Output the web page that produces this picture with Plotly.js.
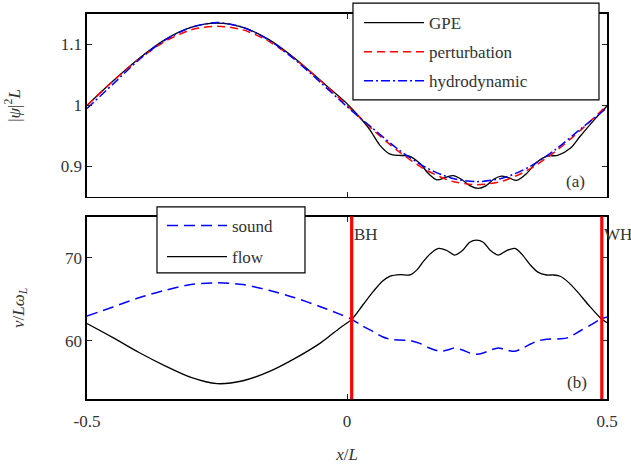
<!DOCTYPE html>
<html>
<head>
<meta charset="utf-8">
<script src="https://cdn.plot.ly/plotly-3.0.1.min.js"></script>
<style>html,body{margin:0;padding:0;background:#fff;}#plot{width:631px;height:466px;}</style>
</head>
<body>
<div id="plot"></div>
<script>
// ---- data ----
const gpeX = [-0.5,-0.45,-0.4,-0.35,-0.3,-0.25,-0.2,-0.15,-0.1,-0.05,0,0.022,0.044,0.063,0.083,0.1,0.12,0.14,0.158,0.173,0.19,0.204,0.22,0.237,0.252,0.267,0.282,0.297,0.312,0.326,0.345,0.365,0.385,0.405,0.43,0.448,0.475,0.5];
const gpeY = [1.0,1.04,1.077,1.108,1.128,1.135,1.128,1.108,1.077,1.04,1.003,0.983,0.96,0.935,0.92,0.918,0.917,0.905,0.887,0.878,0.882,0.885,0.879,0.868,0.864,0.868,0.879,0.884,0.881,0.877,0.888,0.907,0.917,0.918,0.93,0.949,0.976,0.999];

const pertX = [-0.5,-0.45,-0.4,-0.35,-0.3,-0.25,-0.2,-0.15,-0.1,-0.05,0,0.05,0.1,0.15,0.2,0.25,0.3,0.35,0.4,0.45,0.5];
const pertY = [1.0,1.04,1.076,1.105,1.124,1.130,1.124,1.105,1.076,1.04,1.0,0.96,0.924,0.895,0.876,0.870,0.876,0.895,0.924,0.96,1.0];

const hydroX = [-0.5,-0.45,-0.4,-0.35,-0.3,-0.25,-0.2,-0.15,-0.1,-0.05,0,0.05,0.1,0.15,0.2,0.25,0.3,0.35,0.4,0.45,0.5];
const hydroY = [0.995,1.035,1.075,1.107,1.128,1.136,1.128,1.107,1.075,1.037,0.998,0.962,0.927,0.899,0.881,0.875,0.881,0.899,0.927,0.962,0.996];

const soundX = [-0.5,-0.45,-0.4,-0.35,-0.3,-0.25,-0.2,-0.15,-0.1,-0.05,-0.013,0.009,0.03,0.051,0.068,0.083,0.102,0.121,0.14,0.156,0.179,0.193,0.207,0.222,0.236,0.249,0.262,0.276,0.291,0.307,0.323,0.34,0.352,0.367,0.384,0.41,0.425,0.448,0.468,0.487,0.5];
const soundY = [63.0,64.1,65.2,66.1,66.8,67.0,66.8,66.1,65.2,64.1,63.2,62.6,61.8,61.1,60.5,60.2,60.1,60.05,59.7,59.2,58.75,58.9,59.15,58.9,58.55,58.4,58.55,58.9,59.15,58.9,58.75,59.2,59.6,60.0,60.2,60.25,60.4,61.2,61.9,62.6,62.9];

const flowX = [-0.5,-0.45,-0.4,-0.35,-0.3,-0.25,-0.2,-0.15,-0.1,-0.05,-0.013,0.009,0.03,0.051,0.068,0.083,0.102,0.121,0.135,0.147,0.162,0.176,0.192,0.207,0.222,0.236,0.249,0.262,0.276,0.291,0.307,0.323,0.337,0.352,0.367,0.384,0.397,0.41,0.427,0.442,0.465,0.487,0.5];
const flowY = [62.1,60.4,58.6,57.0,55.6,54.85,55.2,56.3,57.9,59.8,61.6,62.6,64.3,66.0,67.2,67.8,68.0,67.95,68.6,69.6,70.6,71.15,70.9,70.35,70.9,71.9,72.15,71.9,70.9,70.35,70.9,71.15,70.4,69.2,68.3,67.95,67.95,67.8,67.0,66.0,64.3,62.8,62.2];

const horizonX = [0.009, 0.49];
const horizonLabels = ['BH', 'WH'];

const xTickVals = [-0.5, 0, 0.5];
const xTickText = ['-0.5', '0', '0.5'];
const yTopTickVals = [0.9, 1, 1.1];
const yTopTickText = ['0.9', '1', '1.1'];
const yBotTickVals = [60, 70];
const yBotTickText = ['60', '70'];

// ---- styling ----
const FONT = 'Liberation Serif, DejaVu Serif, serif';
const TXT = '#333333';
const FS = 17;

const traces = [
  {x: gpeX, y: gpeY, xaxis: 'x', yaxis: 'y', name: 'GPE', mode: 'lines',
   line: {color: '#000000', width: 1.3, shape: 'spline', smoothing: 0.8},
   legend: 'legend', legendgroup: 'g1'},
  {x: pertX, y: pertY, xaxis: 'x', yaxis: 'y', name: 'perturbation', mode: 'lines',
   line: {color: '#ff0000', width: 1.5, dash: '8px,5px', shape: 'spline', smoothing: 0.8},
   legend: 'legend', legendgroup: 'g2'},
  {x: hydroX, y: hydroY, xaxis: 'x', yaxis: 'y', name: 'hydrodynamic', mode: 'lines',
   line: {color: '#0000ff', width: 1.5, dash: '9px,3px,2px,3px', shape: 'spline', smoothing: 0.8},
   legend: 'legend', legendgroup: 'g3'},
  {x: soundX, y: soundY, xaxis: 'x2', yaxis: 'y2', name: 'sound', mode: 'lines',
   line: {color: '#0000ff', width: 1.5, dash: '11px,6px', shape: 'spline', smoothing: 0.8},
   legend: 'legend2', legendgroup: 'g4'},
  {x: flowX, y: flowY, xaxis: 'x2', yaxis: 'y2', name: 'flow', mode: 'lines',
   line: {color: '#000000', width: 1.3, shape: 'spline', smoothing: 0.8},
   legend: 'legend2', legendgroup: 'g5'}
];

const axisCommon = {
  showline: true, linecolor: '#000000', linewidth: 1.6, mirror: 'ticks',
  ticks: 'inside', ticklen: 5, tickwidth: 1, tickcolor: '#222222',
  showgrid: false, zeroline: false, automargin: false,
  tickfont: {family: FONT, size: FS, color: TXT}
};

const shapes = [];
horizonX.forEach(h => {
  shapes.push({type: 'line', xref: 'x2', yref: 'y2 domain', x0: h, x1: h, y0: 0, y1: 1,
               line: {color: '#ff0000', width: 3.2}, layer: 'above'});
});
// legend boxes
shapes.push({type: 'rect', xref: 'paper', yref: 'paper', x0: 0.5115, x1: 0.9846, y0: 0.7768, y1: 1.0285,
             line: {color: '#000000', width: 1.2}, fillcolor: '#ffffff', layer: 'above'});
shapes.push({type: 'rect', xref: 'paper', yref: 'paper', x0: 0.1346, x1: 0.4192, y0: 0.3278, y1: 0.4991,
             line: {color: '#000000', width: 1.2}, fillcolor: '#ffffff', layer: 'above'});

const annotations = [];
horizonX.forEach((h, i) => {
  annotations.push({x: h, xref: 'x2', y: 0.9, yref: 'y2 domain', text: horizonLabels[i],
    showarrow: false, xanchor: 'left', xshift: 0, yanchor: 'middle',
    font: {family: FONT, size: FS, color: TXT}});
});
annotations.push({x: 0.940, xref: 'x domain', y: 0.085, yref: 'y domain', text: '(a)', showarrow: false,
  xanchor: 'center', yanchor: 'middle', font: {family: FONT, size: FS, color: TXT}});
annotations.push({x: 0.942, xref: 'x2 domain', y: 0.092, yref: 'y2 domain', text: '(b)', showarrow: false,
  xanchor: 'center', yanchor: 'middle', font: {family: FONT, size: FS, color: TXT}});

const legendCommon = {
  bgcolor: 'rgba(0,0,0,0)', borderwidth: 0, font: {family: FONT, size: FS, color: TXT},
  traceorder: 'grouped', itemwidth: 60, xanchor: 'left', yanchor: 'top', yref: 'container',
  itemclick: false, itemdoubleclick: false
};

const layout = {
  width: 631, height: 466,
  margin: {l: 87, r: 24, t: 14, b: 67, pad: 0, autoexpand: false},
  paper_bgcolor: '#ffffff', plot_bgcolor: '#ffffff',
  showlegend: true,
  font: {family: FONT, size: FS, color: TXT},
  xaxis: Object.assign({}, axisCommon, {domain: [0, 1], anchor: 'y', range: [-0.5, 0.5],
    tickvals: xTickVals, ticktext: xTickText, showticklabels: false}),
  yaxis: Object.assign({}, axisCommon, {domain: [0.525, 1], anchor: 'x', range: [0.85, 1.15],
    tickvals: yTopTickVals, ticktext: yTopTickText,
    title: {text: '|<i>ψ</i>|<sup>2</sup><i>L</i>', standoff: 36, font: {family: FONT, size: FS, color: TXT}}}),
  xaxis2: Object.assign({}, axisCommon, {domain: [0, 1], anchor: 'y2', range: [-0.5, 0.5],
    tickvals: xTickVals, ticktext: xTickText, ticklabelstandoff: 6,
    title: {text: '<i>x</i>/<i>L</i>', standoff: 18, font: {family: FONT, size: FS, color: TXT}}}),
  yaxis2: Object.assign({}, axisCommon, {domain: [0, 0.474], anchor: 'x2', range: [53, 75],
    tickvals: yBotTickVals, ticktext: yBotTickText,
    title: {text: '<i>v</i>/<i>Lω</i><sub><i>L</i></sub>', standoff: 36, font: {family: FONT, size: FS, color: TXT}}}),
  legend: Object.assign({}, legendCommon, {x: 0.5231, y: 0.9893, tracegroupgap: 4}),
  legend2: Object.assign({}, legendCommon, {x: 0.1442, y: 0.5537, tracegroupgap: 6}),
  shapes: shapes,
  annotations: annotations
};

Plotly.newPlot('plot', traces, layout, {displayModeBar: false, staticPlot: true});
</script>
</body>
</html>
